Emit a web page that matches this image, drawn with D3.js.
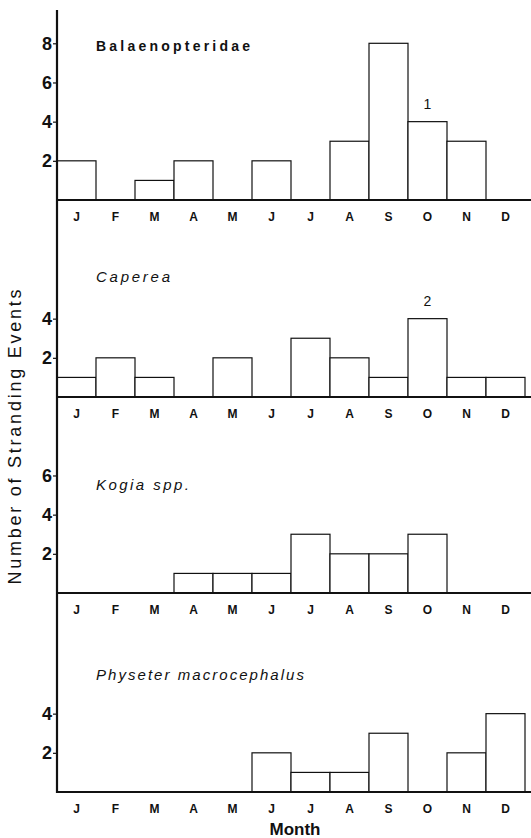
<!DOCTYPE html>
<html>
<head>
<meta charset="utf-8">
<script src="https://cdn.jsdelivr.net/npm/d3@7"></script>
<style>
  body { margin: 0; background: #fff; }
  text { font-family: "Liberation Sans", Arial, sans-serif; fill: #111; }
</style>
</head>
<body>
<script>
// data
const months = ["J","F","M","A","M","J","J","A","S","O","N","D"];
const balaenopteridae = [2,0,1,2,0,2,0,3,8,4,3,0];
const caperea = [1,2,1,0,2,0,3,2,1,4,1,1];
const kogia = [0,0,0,1,1,1,3,2,2,3,0,0];
const physeter = [0,0,0,0,0,2,1,1,3,0,2,4];
const speciesNames = ["Balaenopteridae","Caperea","Kogia spp.","Physeter macrocephalus"];
const tickValues = [[2,4,6,8],[2,4],[2,4,6],[2,4]];
const notes = [{month:9, label:"1"}, {month:9, label:"2"}, null, null];

let width = 531, height = 838,
    left = 57, colW = 39;

let svg = d3.select('body').append('svg')
    .attr('width', width)
    .attr('height', height);

let x = d3.scaleBand().domain(d3.range(12)).range([left, left + colW*12]).padding(0);

let panels = [
  {data: balaenopteridae, base: 200, italic: false, tw: 154, ty: 51},
  {data: caperea, base: 397, italic: true, tw: 74, ty: 282},
  {data: kogia, base: 593, italic: true, tw: 93, ty: 490},
  {data: physeter, base: 792, italic: true, tw: 208, ty: 680}
];

panels.forEach(function(p, k) {
  let y = d3.scaleLinear().domain([0, 9.7]).range([p.base, p.base - 190]);
  let g = svg.append('g');

  // bars
  g.selectAll('rect.bar')
    .data(p.data.map(function(v,i){ return {v:v, i:i}; }).filter(function(d){ return d.v > 0; }))
    .enter()
    .append('rect')
    .attr('class','bar')
    .attr('x', function(d){ return x(d.i); })
    .attr('y', function(d){ return y(d.v); })
    .attr('width', x.bandwidth())
    .attr('height', function(d){ return p.base - y(d.v); })
    .attr('fill', 'white')
    .attr('stroke', '#111')
    .attr('stroke-width', 1.2);

  // y ticks
  let axis = d3.axisLeft(y).tickValues(tickValues[k]).tickSize(4).tickPadding(1).tickFormat(d3.format('d'));
  let ag = g.append('g').attr('transform', `translate(${left},0)`).call(axis);
  ag.select('.domain').remove();
  ag.selectAll('line').attr('stroke', '#111').attr('stroke-width', 1.2);
  ag.selectAll('text')
    .attr('font-size', '18px')
    .attr('font-weight', 'bold')
    .attr('font-family', '"Liberation Sans", Arial, sans-serif')
    .attr('fill', '#111');

  // baseline
  g.append('line')
    .attr('x1', left).attr('x2', width)
    .attr('y1', p.base).attr('y2', p.base)
    .attr('stroke', '#111').attr('stroke-width', 2);

  // month labels
  g.selectAll('text.month')
    .data(months)
    .enter()
    .append('text')
    .attr('class','month')
    .attr('x', function(d,i){ return x(i) + x.bandwidth()/2; })
    .attr('y', p.base + 21)
    .attr('text-anchor', 'middle')
    .attr('font-size', '12px')
    .attr('font-weight', 'bold')
    .text(function(d){ return d; });

  // species name
  g.append('text')
    .attr('x', 96)
    .attr('y', p.ty)
    .attr('font-size', p.italic ? '15px' : '14px')
    .attr('font-weight', p.italic ? 'normal' : 'bold')
    .attr('font-style', p.italic ? 'italic' : 'normal')
    .attr('textLength', p.tw)
    .attr('lengthAdjust', 'spacing')
    .text(speciesNames[k]);

  // small numbers above bars
  if (notes[k]) {
    g.append('text')
      .attr('x', x(notes[k].month) + x.bandwidth()/2)
      .attr('y', y(p.data[notes[k].month]) - 13)
      .attr('text-anchor', 'middle')
      .attr('font-size', '14px')
      .text(notes[k].label);
  }
});

// continuous left axis
svg.append('line')
  .attr('x1', left).attr('x2', left)
  .attr('y1', 10).attr('y2', 793)
  .attr('stroke', '#111').attr('stroke-width', 2.2);

// axis titles
svg.append('text')
  .attr('transform', 'translate(21,437) rotate(-90)')
  .attr('text-anchor', 'middle')
  .attr('font-size', '18px')
  .attr('textLength', 295)
  .attr('lengthAdjust', 'spacing')
  .text('Number of Stranding Events');

svg.append('text')
  .attr('x', 295)
  .attr('y', 835)
  .attr('text-anchor', 'middle')
  .attr('font-size', '17px')
  .attr('font-weight', 'bold')
  .text('Month');
</script>
</body>
</html>
